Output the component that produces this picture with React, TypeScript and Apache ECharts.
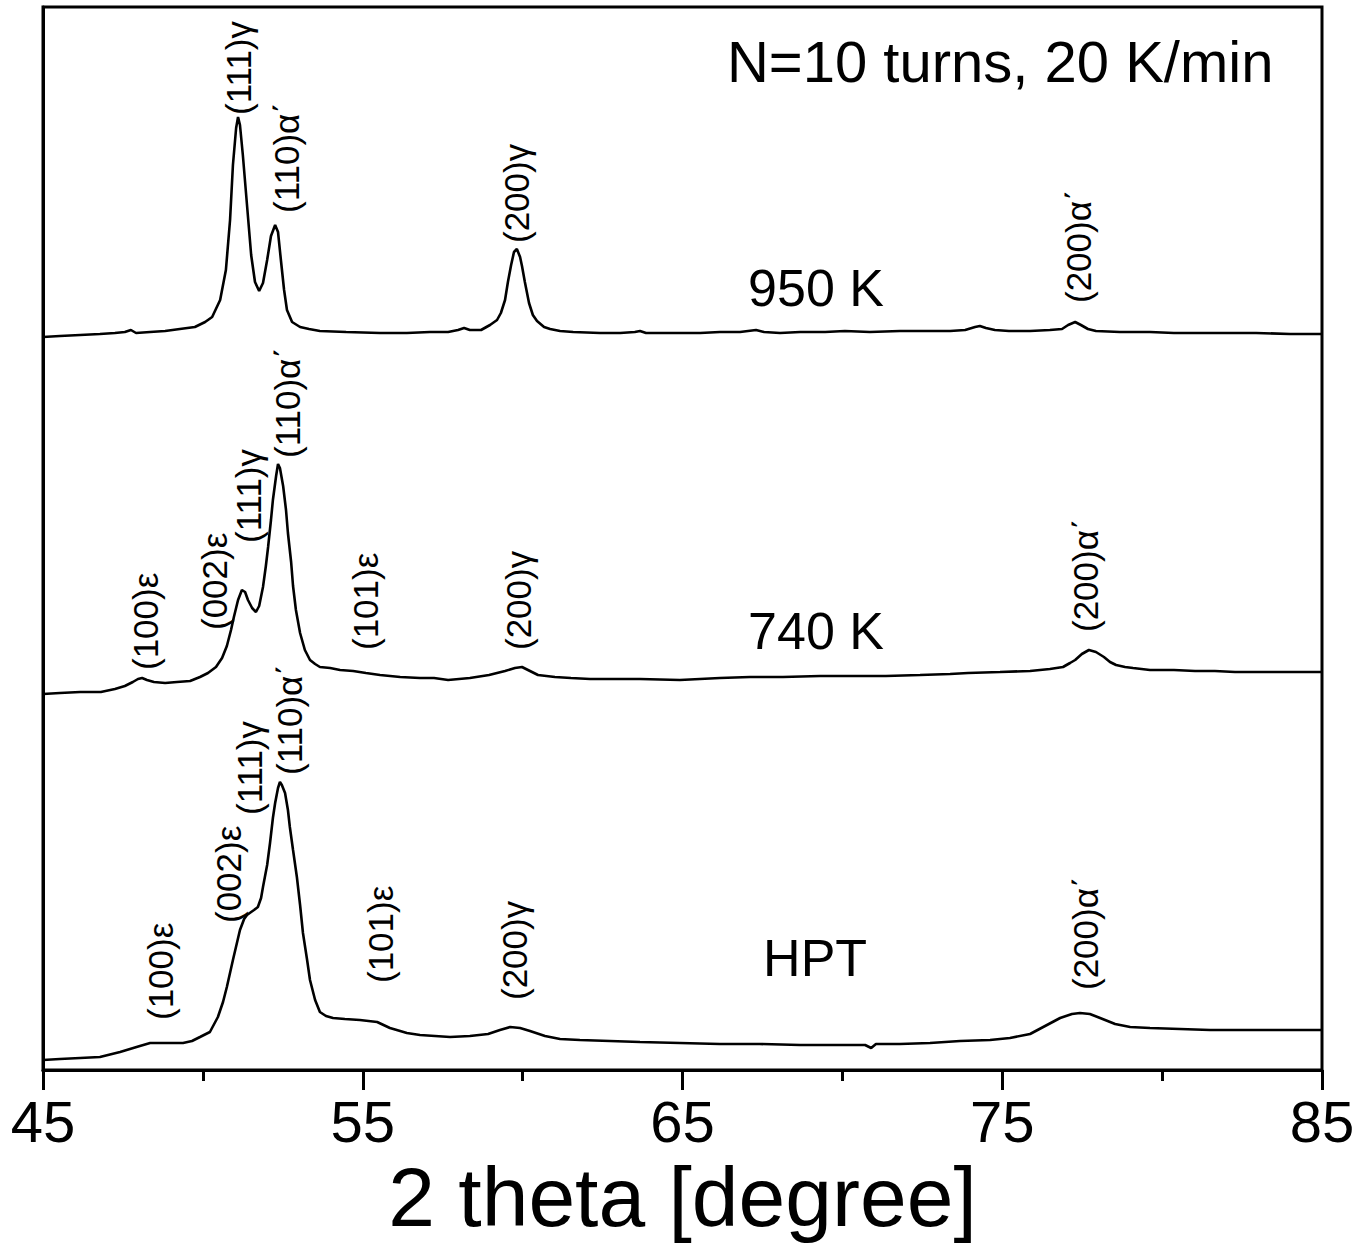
import React, { useEffect, useRef } from "react";
import * as echarts from "echarts";

// x axis: 2 theta in degrees
const THETA_MIN = 45;
const THETA_MAX = 85;
const THETA_STEP = 10;
// y axis: intensity (arbitrary units, patterns stacked with offsets)
const INT_MIN = 0;
const INT_MAX = 1063;

const xAxisTitle = "2 theta [degree]";
const headerText = "N=10 turns, 20 K/min";

// [2theta, intensity]
const pattern950K: [number, number][] = [
  [45.0, 733], [45.53, 734], [46.16, 735], [46.78, 736], [47.25, 737], [47.56, 738],
  [47.75, 740], [47.91, 737], [48.35, 738], [48.82, 739], [49.28, 741], [49.75, 743],
  [50.07, 748], [50.29, 753], [50.54, 770], [50.72, 800], [50.85, 850], [50.94, 905],
  [51.04, 942], [51.1, 953], [51.16, 945], [51.25, 915], [51.38, 865], [51.51, 815],
  [51.63, 788], [51.76, 779], [51.88, 787], [52.01, 810], [52.13, 834], [52.26, 845],
  [52.35, 838], [52.44, 810], [52.54, 780], [52.63, 760], [52.79, 748], [53.04, 743],
  [53.32, 741], [53.66, 739], [54.48, 738], [55.54, 737], [56.38, 737], [57.1, 738],
  [57.67, 738], [57.98, 740], [58.17, 742], [58.35, 740], [58.7, 740], [58.98, 745],
  [59.2, 750], [59.32, 757], [59.45, 770], [59.54, 788], [59.64, 805], [59.73, 818],
  [59.82, 821], [59.92, 813], [59.98, 804], [60.07, 788], [60.2, 767], [60.32, 755],
  [60.45, 749], [60.67, 743], [60.86, 741], [61.17, 739], [61.58, 738], [62.42, 737],
  [63.05, 737], [63.51, 738], [63.67, 739], [63.86, 737], [64.3, 737], [64.92, 737],
  [65.55, 737], [66.17, 738], [66.8, 738], [67.05, 739], [67.3, 740], [67.55, 738],
  [68.05, 737], [68.68, 738], [69.46, 738], [70.08, 739], [70.86, 738], [71.8, 739],
  [72.65, 739], [73.37, 739], [73.84, 740], [74.15, 743], [74.3, 744], [74.49, 742],
  [74.77, 740], [75.21, 739], [75.87, 739], [76.49, 740], [76.87, 741], [77.06, 745],
  [77.28, 748], [77.46, 745], [77.68, 741], [77.93, 739], [78.68, 738], [79.62, 738],
  [80.37, 737], [81.18, 737], [82.12, 737], [82.94, 737], [84.0, 736], [85.0, 736],
];

const pattern740K: [number, number][] = [
  [45.0, 376], [45.53, 377], [46.16, 378], [46.81, 378], [47.25, 381], [47.56, 384],
  [47.81, 388], [47.97, 391], [48.1, 392], [48.25, 390], [48.47, 388], [48.82, 387],
  [49.19, 388], [49.6, 389], [49.91, 393], [50.16, 397], [50.41, 403], [50.6, 412],
  [50.75, 424], [50.88, 440], [50.97, 453], [51.1, 470], [51.22, 480], [51.32, 478],
  [51.41, 470], [51.54, 462], [51.66, 458], [51.76, 464], [51.88, 483], [51.97, 504],
  [52.04, 523], [52.13, 550], [52.19, 570], [52.29, 594], [52.35, 606], [52.41, 602],
  [52.51, 584], [52.6, 560], [52.66, 537], [52.76, 508], [52.82, 484], [52.91, 460],
  [53.04, 437], [53.19, 420], [53.35, 410], [53.51, 406], [53.66, 403], [53.98, 402],
  [54.29, 400], [54.7, 399], [55.1, 397], [55.54, 395], [56.17, 393], [56.79, 392],
  [57.23, 392], [57.67, 390], [58.35, 392], [58.95, 395], [59.45, 399], [59.76, 402],
  [59.98, 403], [60.23, 399], [60.48, 395], [61.01, 393], [61.51, 392], [62.11, 391],
  [62.76, 391], [63.67, 391], [64.92, 390], [66.17, 392], [67.11, 393], [68.14, 393],
  [69.3, 394], [70.55, 394], [71.36, 394], [72.43, 395], [73.37, 396], [73.93, 397],
  [74.93, 398], [75.87, 399], [76.49, 401], [76.9, 403], [77.12, 407], [77.28, 410],
  [77.49, 416], [77.71, 420], [77.93, 418], [78.18, 413], [78.37, 408], [78.56, 405],
  [78.84, 403], [79.09, 402], [79.62, 400], [80.37, 400], [81.03, 399], [81.65, 399],
  [82.28, 398], [82.75, 398], [85.0, 398],
];

const patternHPT: [number, number][] = [
  [45.0, 10], [45.53, 11], [46.16, 12], [46.78, 13], [47.41, 18], [47.72, 21],
  [48.03, 24], [48.35, 27], [48.82, 27], [49.38, 27], [49.66, 29], [49.91, 33],
  [50.22, 38], [50.47, 53], [50.63, 68], [50.75, 83], [50.94, 110], [51.16, 140],
  [51.29, 151], [51.38, 155], [51.51, 158], [51.6, 160], [51.72, 163], [51.82, 172],
  [51.88, 183], [52.01, 205], [52.1, 227], [52.19, 252], [52.26, 267], [52.35, 282],
  [52.41, 288], [52.47, 285], [52.57, 277], [52.66, 260], [52.72, 243], [52.82, 220],
  [52.94, 193], [53.04, 165], [53.13, 137], [53.26, 110], [53.35, 90], [53.51, 70],
  [53.66, 58], [53.85, 54], [54.07, 52], [54.44, 51], [54.91, 50], [55.45, 48],
  [55.85, 42], [56.17, 39], [56.38, 37], [56.79, 35], [57.26, 34], [57.73, 33],
  [58.35, 34], [58.92, 36], [59.29, 40], [59.61, 43], [59.92, 42], [60.23, 39],
  [60.7, 34], [61.17, 31], [61.79, 30], [62.73, 29], [63.67, 28], [64.92, 27],
  [66.17, 26], [67.42, 26], [68.68, 25], [69.93, 25], [70.71, 25], [70.9, 22],
  [71.05, 26], [71.8, 26], [72.74, 27], [73.68, 29], [74.62, 30], [75.24, 32],
  [75.87, 36], [76.34, 44], [76.81, 52], [77.18, 56], [77.43, 57], [77.74, 56],
  [78.06, 52], [78.53, 46], [79.0, 43], [79.62, 42], [80.56, 41], [81.5, 40],
  [82.44, 40], [83.12, 40], [85.0, 40],
];

// peak identifications: [label, 2theta, intensity at label foot]
const peaks950K: [string, number, number][] = [
  ["(111)γ", 51.1, 955],
  ["(110)α΄", 52.63, 857],
  ["(200)γ", 59.82, 827],
  ["(200)α΄", 77.4, 767],
];
const peaks740K: [string, number, number][] = [
  ["(100)ε", 48.22, 400],
  ["(002)ε", 50.35, 440],
  ["(111)γ", 51.44, 527],
  ["(110)α΄", 52.66, 612],
  ["(101)ε", 55.1, 420],
  ["(200)γ", 59.86, 420],
  ["(200)α΄", 77.59, 438],
];
const peaksHPT: [string, number, number][] = [
  ["(100)ε", 48.66, 50],
  ["(002)ε", 50.79, 147],
  ["(111)γ", 51.47, 255],
  ["(110)α΄", 52.72, 295],
  ["(101)ε", 55.54, 87],
  ["(200)γ", 59.76, 70],
  ["(200)α΄", 77.59, 80],
];

// sample names: [label, 2theta, intensity]
const sampleNames: [string, number, number][] = [
  ["950 K", 67.05, 782],
  ["740 K", 67.05, 439],
  ["HPT", 67.52, 112],
];
const headerAnchor: [number, number] = [66.39, 1009];

const FONT = "'Liberation Sans', Arial, sans-serif";

export default function App() {
  const ref = useRef<HTMLDivElement>(null);

  useEffect(() => {
    document.body.style.margin = "0";
    const chart = echarts.init(ref.current!, null, { renderer: "svg" });

    const lineSeries = (name: string, data: [number, number][]) => ({
      name,
      type: "line",
      data,
      showSymbol: false,
      symbol: "none",
      silent: true,
      lineStyle: { color: "#000", width: 2.6 },
      z: 3,
    });

    chart.setOption({
      animation: false,
      backgroundColor: "#fff",
      grid: {
        left: 43,
        right: 35,
        top: 7,
        bottom: 178,
        containLabel: false,
        outerBoundsMode: "none",
        show: true,
        borderColor: "#000",
        borderWidth: 3,
        backgroundColor: "transparent",
      },
      xAxis: {
        type: "value",
        min: THETA_MIN,
        max: THETA_MAX,
        interval: THETA_STEP,
        axisLine: { show: true, lineStyle: { color: "#000", width: 3 } },
        axisTick: { show: true, inside: false, length: 20, lineStyle: { color: "#000", width: 3 } },
        minorTick: { show: true, splitNumber: 2, length: 11, lineStyle: { color: "#000", width: 3 } },
        splitLine: { show: false },
        minorSplitLine: { show: false },
        axisLabel: { fontSize: 58, fontFamily: FONT, color: "#000", margin: 22 },
        name: xAxisTitle,
        nameLocation: "middle",
        nameGap: 72,
        nameTextStyle: { fontSize: 84, fontFamily: FONT, color: "#000" },
      },
      yAxis: {
        type: "value",
        min: INT_MIN,
        max: INT_MAX,
        axisLine: { show: true, lineStyle: { color: "#000", width: 3 } },
        axisTick: { show: false },
        axisLabel: { show: false },
        splitLine: { show: false },
      },
      series: [
        lineSeries("950 K", pattern950K),
        lineSeries("740 K", pattern740K),
        lineSeries("HPT", patternHPT),
      ],
    });

    const toPx = (x: number, y: number) =>
      chart.convertToPixel({ gridIndex: 0 }, [x, y]) as number[];

    const graphics: any[] = [];
    [...peaks950K, ...peaks740K, ...peaksHPT].forEach(([text, x, y]) => {
      const [px, py] = toPx(x, y);
      graphics.push({
        type: "text",
        x: px,
        y: py,
        rotation: Math.PI / 2,
        silent: true,
        z: 10,
        style: {
          text,
          fontSize: 35,
          fontFamily: FONT,
          fill: "#000",
          textAlign: "left",
          textVerticalAlign: "middle",
        },
      });
    });
    sampleNames.forEach(([text, x, y]) => {
      const [px, py] = toPx(x, y);
      graphics.push({
        type: "text",
        x: px,
        y: py,
        silent: true,
        z: 10,
        style: {
          text,
          fontSize: 52,
          fontFamily: FONT,
          fill: "#000",
          textAlign: "left",
          textVerticalAlign: "middle",
        },
      });
    });
    {
      const [px, py] = toPx(headerAnchor[0], headerAnchor[1]);
      graphics.push({
        type: "text",
        x: px,
        y: py,
        silent: true,
        z: 10,
        style: {
          text: headerText,
          fontSize: 58,
          fontFamily: FONT,
          fill: "#000",
          textAlign: "left",
          textVerticalAlign: "middle",
        },
      });
    }
    chart.setOption({ graphic: graphics });

    return () => chart.dispose();
  }, []);

  return <div ref={ref} style={{ width: 1357, height: 1248 }} />;
}
